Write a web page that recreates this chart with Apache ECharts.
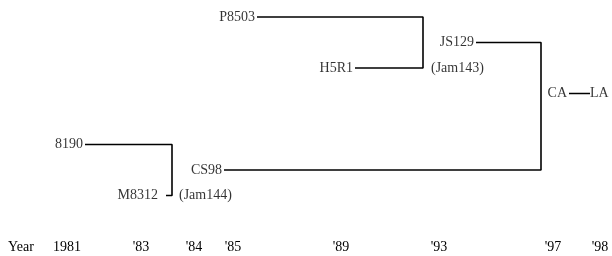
<!DOCTYPE html>
<html>
<head>
<meta charset="utf-8">
<script src="https://cdn.jsdelivr.net/npm/echarts@6/dist/echarts.min.js"></script>
<style>
  html, body { margin: 0; background: #fff; }
  #chart { width: 612px; height: 256px; }
</style>
</head>
<body>
<div id="chart"></div>
<script>
// timeline tick labels and where they sit along the axis
const yearLabels = ['Year', '1981', "'83", "'84", "'85", "'89", "'93", "'97", "'98"];
const yearAt = [21, 67, 141, 194, 233, 341, 439, 553, 600];

// strains: name, where its line starts, row (top = 0)
const strainNames = ['P8503', 'H5R1', 'JS129', 'CA', '8190', 'M8312', 'CS98'];
const strainX = [257, 355, 476, 569, 85, 166, 224];
const strainRow = [0, 2, 1, 3, 5, 7, 6];

// crosses: two parents joined at a junction
const crossA = ['P8503', 'JS129', '8190'];
const crossB = ['H5R1', 'CS98', 'M8312'];
const crossJoin = [423, 541, 172];

// CA gave rise to LA
const laName = 'LA';
const laX = 590;

const noteText = ['(Jam143)', '(Jam144)'];
const noteX = [431, 179];
const noteRow = [2, 7];

const font = {
  fontFamily: '"Liberation Serif", "DejaVu Serif", serif',
  fontSize: 14,
  color: '#000'
};
const lineStyle = { color: '#000', width: 1.6 };

const idx = name => strainNames.indexOf(name);

const series = [];

crossA.forEach((a, i) => {
  const ia = idx(a), ib = idx(crossB[i]);
  series.push({
    type: 'line',
    symbol: 'none',
    silent: true,
    lineStyle: lineStyle,
    data: [
      [strainX[ia], strainRow[ia]],
      [crossJoin[i], strainRow[ia]],
      [crossJoin[i], strainRow[ib]],
      [strainX[ib], strainRow[ib]]
    ]
  });
});

const ica = idx('CA');
series.push({
  type: 'line',
  symbol: 'none',
  silent: true,
  lineStyle: lineStyle,
  data: [[strainX[ica], strainRow[ica]], [laX, strainRow[ica]]]
});

// strain names sit left of their line start
series.push({
  type: 'scatter',
  symbolSize: 0,
  silent: true,
  label: Object.assign({ show: true, position: 'left', distance: 2, formatter: p => p.name }, font),
  data: strainNames.map((n, i) => ({
    name: n,
    value: [strainX[i], strainRow[i]],
    label: n === 'M8312' ? { distance: 8 } : undefined
  }))
});

series.push({
  type: 'scatter',
  symbolSize: 0,
  silent: true,
  label: Object.assign({ show: true, position: 'right', distance: 0, formatter: p => p.name }, font),
  data: [{ name: laName, value: [laX, strainRow[ica]] }]
});

series.push({
  type: 'scatter',
  symbolSize: 0,
  silent: true,
  label: Object.assign({ show: true, position: 'right', distance: 0, formatter: p => p.name }, font),
  data: noteText.map((t, i) => ({ name: t, value: [noteX[i], noteRow[i]] }))
});

const chart = echarts.init(document.getElementById('chart'));
chart.setOption({
  animation: false,
  grid: { left: 0, right: 0, top: 0, bottom: 20 },
  xAxis: {
    type: 'value',
    min: 0,
    max: 612,
    axisLine: { show: false },
    axisTick: { show: false },
    splitLine: { show: false },
    axisLabel: Object.assign({
      customValues: yearAt,
      margin: 4,
      formatter: v => yearLabels[yearAt.indexOf(v)]
    }, font)
  },
  yAxis: {
    type: 'value',
    inverse: true,
    min: -0.667,
    max: 8.588,
    show: false
  },
  series: series
});
</script>
</body>
</html>
